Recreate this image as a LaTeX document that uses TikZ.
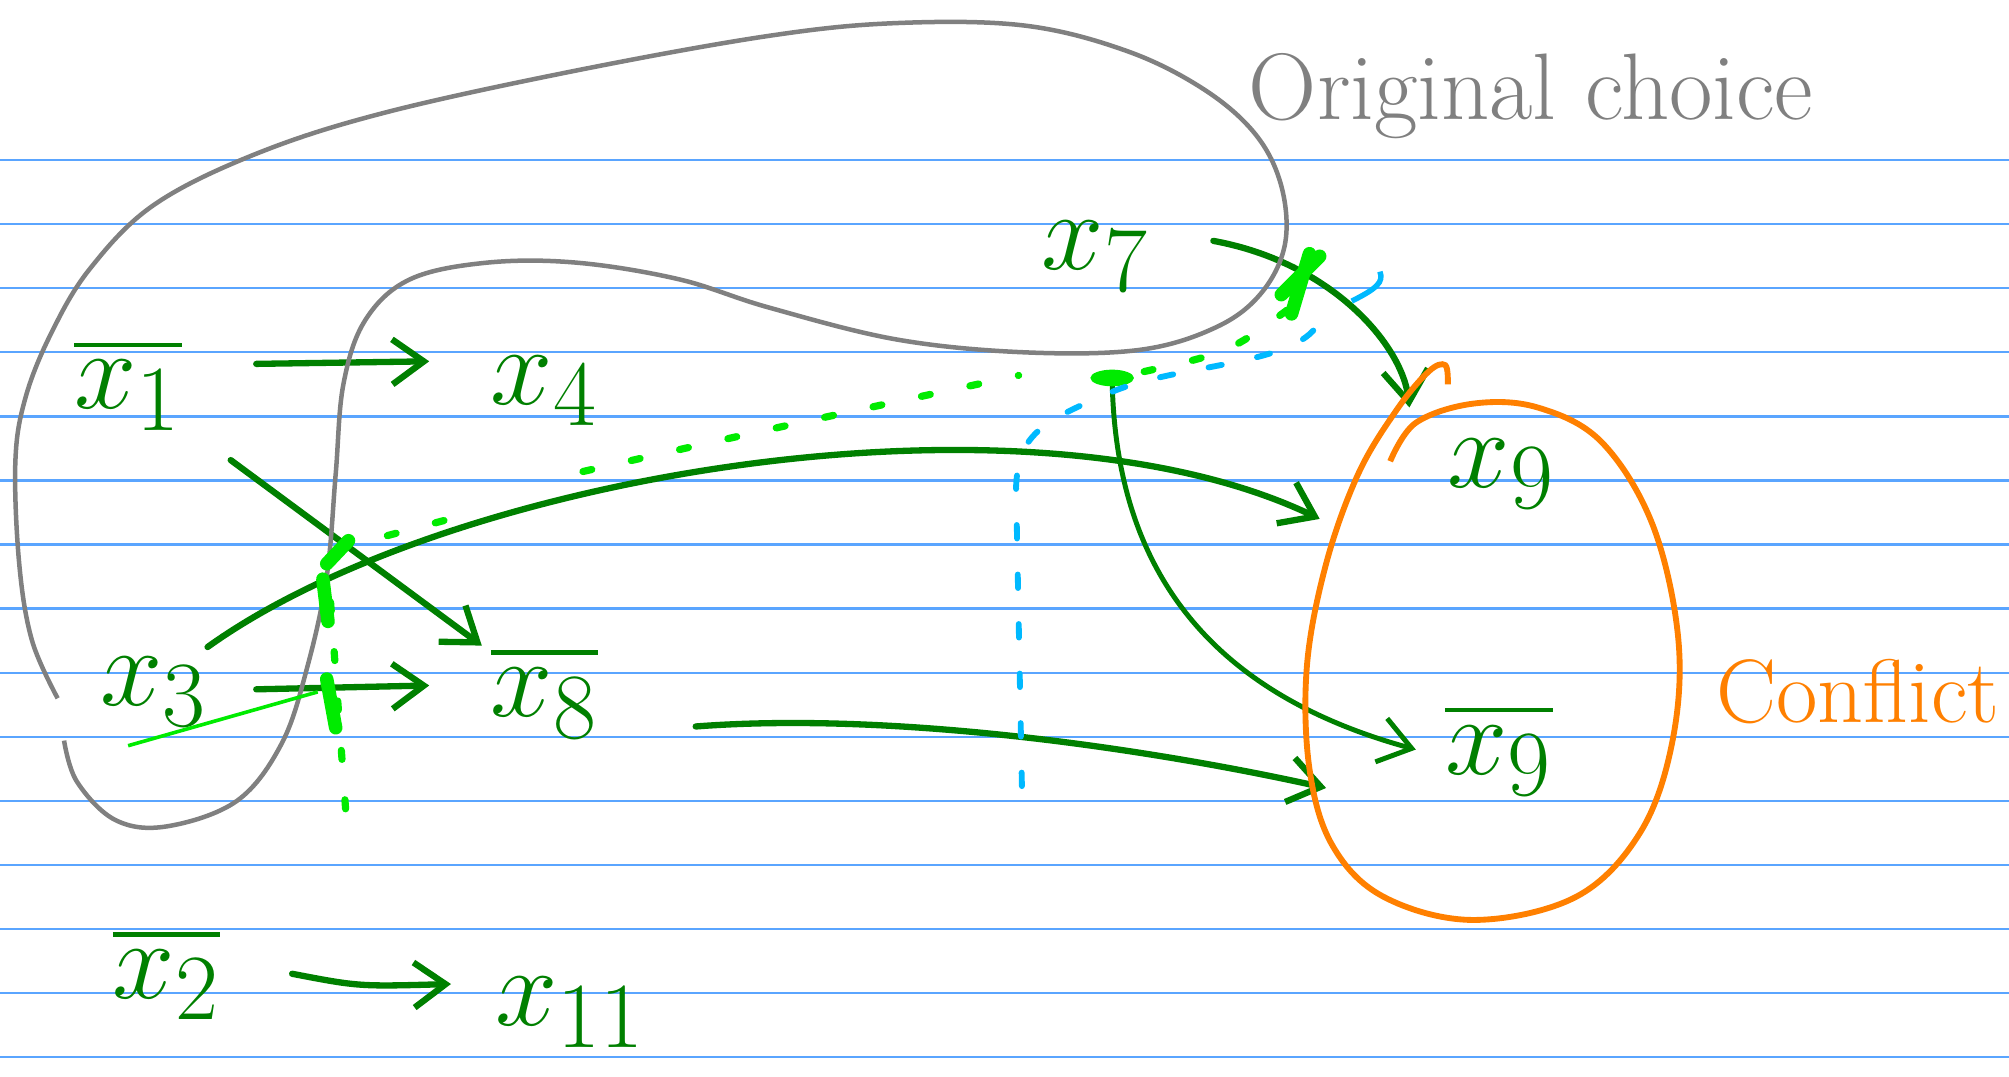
\documentclass[tikz,border=0pt]{standalone}
\usepackage{amsmath}
\usetikzlibrary{arrows.meta}
\begin{document}
\begin{tikzpicture}[x=1cm,y=-1cm,
  var/.style={text=penGreen, font=\fontsize{30}{34}\selectfont, inner sep=1pt},
  link/.style={penGreen, line width=1.4pt, line cap=round, -{Straight Barb[length=7pt,width=10pt]}},
  loop/.style={penGray, line width=1pt},
  rule/.style={ruleBlue, line width=0.5pt},
  hint/.style={penLime, line width=1.6pt, line cap=round, dash pattern=on 2pt off 9pt},
  trace/.style={penSky, line width=1.3pt, line cap=round, dash pattern=on 3pt off 8pt}]
\definecolor{penGreen}{RGB}{0,128,0}
\definecolor{penLime}{RGB}{0,235,0}
\definecolor{penGray}{RGB}{128,128,128}
\definecolor{penOrange}{RGB}{255,128,0}
\definecolor{penSky}{RGB}{0,185,255}
\definecolor{ruleBlue}{RGB}{90,165,255}
\useasboundingbox (0,0) rectangle (15.68,8.40);
\fill[white] (0,0) rectangle (15.68,8.40);
% ruled paper
\foreach \k in {0,...,14}
  \draw[rule] (0,1.25+0.5*\k) -- (15.68,1.25+0.5*\k);
% variables
\node[var] (x1) at (1.00,3.00) {$\overline{x_1}$};
\node[var] (x4) at (4.25,3.05) {$x_4$};
\node[var] (x3) at (1.20,5.40) {$x_3$};
\node[var] (x8) at (4.25,5.40) {$\overline{x_8}$};
\node[var] (x7) at (8.55,2.00) {$x_7$};
\node[var] (x9) at (11.72,3.70) {$x_9$};
\node[var] (nx9) at (11.70,5.85) {$\overline{x_9}$};
\node[var] (x2) at (1.30,7.60) {$\overline{x_2}$};
\node[var] (x11) at (4.45,7.90) {$x_{11}$};
\coordinate (blob) at (8.68,2.95);
% implications
\draw[link] (x1) ++(1.0,-0.16) -- (3.35,2.82);
\draw[link, shorten <=12pt, shorten >=1pt] (x1) -- (x8);
\draw[link] (x3) ++(0.80,-0.02) -- (3.35,5.35);
\draw[link] (x2) ++(0.98,0.0) .. controls (2.8,7.70) .. (3.52,7.68);
\draw[link] (x3) ++(0.42,-0.35) .. controls (3.5,3.70) and (8.0,2.95) .. (10.30,4.05);
\draw[link] (x8) ++(1.18,0.27) .. controls (7.0,5.55) and (9.0,5.85) .. (10.35,6.15);
\draw[link] (x7) ++(0.92,-0.12) .. controls (10.4,2.05) and (10.95,2.70) .. (11.00,3.18);
\draw[link, line width=1.1pt] (blob) .. controls (8.70,4.40) and (9.40,5.40) .. (11.05,5.85);
% original choice loop
\draw[loop] plot[smooth, tension=0.6] coordinates {(0.45,5.45) (0.25,5.00) (0.15,4.40) (0.12,3.60) (0.20,3.10) (0.40,2.60) (0.70,2.10) (1.20,1.60) (2.00,1.20) (3.00,0.88) (4.50,0.55) (6.00,0.28) (7.00,0.18) (8.00,0.20) (8.80,0.40) (9.40,0.70) (9.80,1.05) (10.00,1.45) (10.03,1.90) (9.85,2.28) (9.50,2.55) (8.90,2.73) (8.00,2.75) (7.00,2.65) (6.00,2.40) (5.30,2.18) (4.50,2.05) (3.80,2.05) (3.20,2.18) (2.85,2.50) (2.68,3.00) (2.62,3.70) (2.55,4.50) (2.40,5.20) (2.20,5.80) (1.85,6.25) (1.30,6.45) (0.90,6.40) (0.60,6.10) (0.50,5.78)};
\node[text=penGray, font=\fontsize{21}{25}\selectfont] (orig) at (11.95,0.75) {Original choice};
% conflict
\draw[penOrange, line width=1.3pt] plot[smooth, tension=0.6] coordinates {(10.85,3.60) (11.05,3.30) (11.50,3.15) (12.00,3.18) (12.50,3.45) (12.90,4.10) (13.10,5.00) (13.05,5.80) (12.80,6.50) (12.30,7.00) (11.50,7.18) (10.80,7.00) (10.40,6.60) (10.22,6.00) (10.20,5.20) (10.35,4.40) (10.60,3.70) (10.90,3.20) (11.15,2.90) (11.28,2.85) (11.30,3.00)};
\node[text=penOrange, font=\fontsize{20}{24}\selectfont] (conf) at (14.50,5.40) {Conflict};
% propagation hints
\draw[hint] (2.65,4.28) -- (3.70,4.00);
\draw[hint] (4.55,3.68) .. controls (6.0,3.35) .. (7.95,2.93);
\draw[hint] (blob) ++(0.25,-0.05) .. controls (9.60,2.75) .. (10.10,2.38);
\draw[hint] (2.58,4.70) -- (2.70,6.35);
\draw[penLime, line width=0.8pt] (1.00,5.82) -- (2.48,5.40);
\fill[penLime] (blob) ellipse (0.17 and 0.065);
\draw[penLime, line width=3pt, line cap=round] (2.55,4.40) -- (2.72,4.22) (2.52,4.52) -- (2.56,4.85) (2.55,5.30) -- (2.62,5.68) (10.08,2.45) -- (10.22,1.98) (10.00,2.30) -- (10.30,2.00);
\draw[trace] (10.25,2.58) .. controls (10.00,2.85) and (9.20,2.85) .. (8.70,3.05) .. controls (8.10,3.30) and (7.95,3.40) .. (7.93,3.80) -- (7.98,6.35);
\draw[penSky, line width=1.2pt] (10.55,2.35) .. controls (10.75,2.25) and (10.80,2.20) .. (10.77,2.12);
\end{tikzpicture}
\end{document}
